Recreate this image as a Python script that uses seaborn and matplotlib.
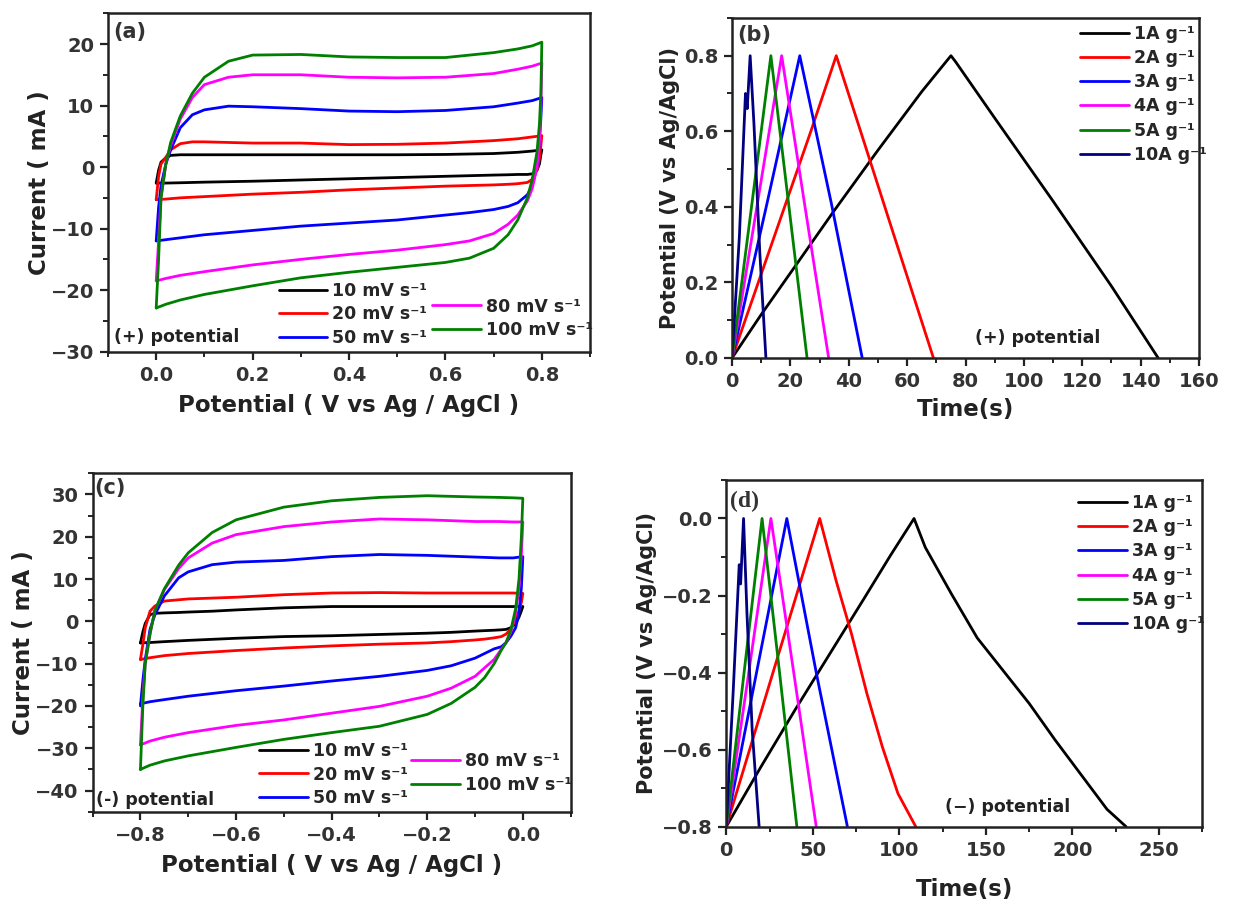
import matplotlib
matplotlib.use("Agg")
import matplotlib.pyplot as plt
import seaborn as sns
import pandas as pd
from matplotlib.ticker import MultipleLocator

# ---------------- DATA ----------------
# Panel (a): CV, positive window. Forward (upper) and reverse (lower) branches.
a_up_V = [0.0, 0.005, 0.01, 0.02, 0.03, 0.05, 0.075, 0.1, 0.15, 0.2, 0.3, 0.4, 0.5, 0.6, 0.7, 0.75, 0.78, 0.8]
a_dn_V = [0.8, 0.798, 0.795, 0.79, 0.78, 0.77, 0.75, 0.73, 0.7, 0.65, 0.6, 0.5, 0.4, 0.3, 0.2, 0.1, 0.05, 0.02, 0.0]
a_10_up = [-2.6, -0.5, 0.8, 1.5, 1.9, 2.0, 2.0, 2.0, 2.0, 2.0, 2.0, 2.0, 2.0, 2.05, 2.2, 2.4, 2.6, 2.8]
a_10_dn = [2.8, 2.0, 0.5, -0.5, -1.1, -1.2, -1.2, -1.25, -1.3, -1.4, -1.5, -1.7, -1.9, -2.1, -2.3, -2.45, -2.55, -2.6, -2.6]
a_20_up = [-5.3, -1.5, 0.5, 1.6, 2.8, 3.8, 4.1, 4.1, 4.0, 3.9, 3.9, 3.65, 3.7, 3.9, 4.3, 4.6, 4.9, 5.1]
a_20_dn = [5.1, 3.5, 1.5, -0.5, -2.0, -2.5, -2.7, -2.8, -2.9, -3.0, -3.1, -3.4, -3.7, -4.1, -4.4, -4.8, -5.0, -5.2, -5.3]
a_50_up = [-12.0, -6.5, -3.0, 0.5, 2.8, 6.4, 8.5, 9.3, 9.9, 9.8, 9.5, 9.1, 9.0, 9.2, 9.8, 10.4, 10.8, 11.3]
a_50_dn = [11.3, 8.0, 4.0, 0.0, -3.0, -4.5, -5.8, -6.4, -6.9, -7.4, -7.8, -8.6, -9.1, -9.6, -10.3, -11.0, -11.5, -11.8, -12.0]
a_80_up = [-18.5, -12.0, -5.0, 0.5, 3.5, 7.8, 11.3, 13.4, 14.6, 15.0, 15.0, 14.6, 14.5, 14.6, 15.2, 15.9, 16.4, 16.9]
a_80_dn = [16.9, 10.0, 4.0, 0.0, -3.5, -5.5, -7.8, -9.3, -10.8, -12.0, -12.6, -13.5, -14.2, -15.0, -15.9, -17.0, -17.6, -18.1, -18.5]
a_100_up = [-22.9, -15.0, -5.0, 0.5, 4.0, 8.3, 12.0, 14.6, 17.2, 18.2, 18.3, 17.9, 17.8, 17.8, 18.6, 19.2, 19.7, 20.3]
a_100_dn = [20.3, 12.0, 7.0, 2.5, -2.0, -5.0, -8.6, -11.0, -13.2, -14.8, -15.5, -16.3, -17.1, -18.0, -19.3, -20.7, -21.6, -22.3, -22.9]

# Panel (c): CV, negative window.
c_up_V = [-0.8, -0.795, -0.79, -0.78, -0.77, -0.75, -0.72, -0.7, -0.65, -0.6, -0.5, -0.4, -0.3, -0.2, -0.1, -0.05, -0.02, 0.0]
c_dn_V = [0.0, -0.003, -0.008, -0.015, -0.025, -0.035, -0.045, -0.06, -0.08, -0.1, -0.15, -0.2, -0.3, -0.4, -0.5, -0.6, -0.7, -0.75, -0.78, -0.8]
c_10_up = [-5.1, -2.5, -0.5, 1.6, 1.9, 2.0, 2.1, 2.2, 2.4, 2.7, 3.2, 3.5, 3.5, 3.5, 3.5, 3.5, 3.5, 3.5]
c_10_dn = [3.5, 2.5, 1.0, -0.5, -1.5, -1.9, -2.0, -2.1, -2.2, -2.3, -2.6, -2.8, -3.1, -3.4, -3.6, -4.0, -4.5, -4.8, -5.0, -5.1]
c_20_up = [-9.0, -5.5, -1.5, 2.4, 3.6, 4.8, 5.1, 5.3, 5.5, 5.7, 6.3, 6.7, 6.8, 6.7, 6.7, 6.7, 6.7, 6.6]
c_20_dn = [6.6, 4.5, 2.5, 0.5, -1.8, -3.0, -3.6, -3.9, -4.2, -4.4, -4.8, -5.1, -5.4, -5.8, -6.3, -6.9, -7.6, -8.1, -8.6, -9.0]
c_50_up = [-20.0, -14.0, -9.0, -1.9, 1.5, 6.0, 10.3, 11.7, 13.4, 14.0, 14.4, 15.3, 15.8, 15.6, 15.2, 15.0, 15.0, 15.3]
c_50_dn = [15.3, 8.0, 2.0, -1.5, -3.5, -5.0, -6.0, -6.5, -7.6, -8.7, -10.5, -11.6, -13.0, -14.1, -15.3, -16.4, -17.7, -18.5, -19.0, -19.5]
c_80_up = [-29.2, -18.0, -10.0, -3.0, 2.5, 7.5, 12.5, 15.0, 18.5, 20.5, 22.4, 23.5, 24.2, 24.0, 23.6, 23.6, 23.5, 23.5]
c_80_dn = [23.5, 16.0, 8.0, 2.0, -2.5, -5.0, -6.6, -9.0, -11.0, -13.0, -15.8, -17.7, -20.1, -21.7, -23.3, -24.6, -26.3, -27.4, -28.3, -29.2]
c_100_up = [-35.0, -20.0, -10.0, -3.0, 2.5, 7.7, 13.3, 16.2, 21.0, 24.0, 27.0, 28.5, 29.3, 29.7, 29.4, 29.3, 29.2, 29.1]
c_100_dn = [29.1, 20.0, 10.0, 3.0, -2.0, -5.0, -6.8, -10.0, -13.3, -15.6, -19.4, -22.0, -24.8, -26.3, -27.9, -29.8, -31.8, -33.0, -34.0, -35.0]

cv_labels = ["10 mV s\u207b\u00b9", "20 mV s\u207b\u00b9", "50 mV s\u207b\u00b9",
             "80 mV s\u207b\u00b9", "100 mV s\u207b\u00b9"]
cv_colors = ["#000000", "#ff0000", "#0000ff", "#ff00ff", "#008000"]

# Panel (b): GCD, positive window
b_1_t = [0, 10, 20, 35, 50, 65, 75, 76.5, 90, 110, 130, 146]
b_1_v = [0.0, 0.115, 0.225, 0.39, 0.55, 0.705, 0.80, 0.785, 0.635, 0.415, 0.19, 0.0]
b_2_t = [0, 9, 18, 27, 35.7, 45, 55, 69]
b_2_v = [0.0, 0.2, 0.4, 0.6, 0.80, 0.577, 0.336, 0.0]
b_3_t = [0, 12, 23.2, 34, 44.6]
b_3_v = [0.0, 0.41, 0.80, 0.41, 0.0]
b_4_t = [0, 8.5, 17.0, 25, 33.1]
b_4_v = [0.0, 0.40, 0.80, 0.40, 0.0]
b_5_t = [0, 6.5, 13.3, 19.5, 25.7]
b_5_v = [0.0, 0.39, 0.80, 0.40, 0.0]
b_10_t = [0, 2.5, 4.6, 5.2, 6.2, 7.5, 9.5, 11.6]
b_10_v = [0.0, 0.32, 0.70, 0.66, 0.80, 0.62, 0.28, 0.0]

# Panel (d): GCD, negative window
d_1_t = [0, 20, 40, 60, 80, 95, 108.5, 115, 130, 145, 160, 175, 190, 205, 220, 231]
d_1_v = [-0.8, -0.645, -0.495, -0.35, -0.205, -0.095, 0.0, -0.075, -0.195, -0.31, -0.395, -0.48, -0.575, -0.665, -0.755, -0.8]
d_2_t = [0, 27, 54, 63.5, 72.4, 81.3, 90.2, 99.2, 109.5]
d_2_v = [-0.8, -0.4, 0.0, -0.162, -0.3, -0.455, -0.593, -0.714, -0.8]
d_3_t = [0, 17.5, 35, 52, 70]
d_3_v = [-0.8, -0.4, 0.0, -0.4, -0.8]
d_4_t = [0, 13, 25.8, 39, 52]
d_4_v = [-0.8, -0.4, 0.0, -0.4, -0.8]
d_5_t = [0, 10.3, 20.7, 30.8, 40.8]
d_5_v = [-0.8, -0.4, 0.0, -0.4, -0.8]
d_10_t = [0, 4, 7.5, 8.3, 10, 12, 15, 19]
d_10_v = [-0.8, -0.45, -0.12, -0.17, 0.0, -0.25, -0.55, -0.8]

gcd_labels = ["1A g\u207b\u00b9", "2A g\u207b\u00b9", "3A g\u207b\u00b9",
              "4A g\u207b\u00b9", "5A g\u207b\u00b9", "10A g\u207b\u00b9"]
gcd_colors = ["#000000", "#ff0000", "#0000ff", "#ff00ff", "#008000", "#000080"]

# ---------------- STYLE ----------------
sns.set_theme(style="ticks")
plt.rcParams["font.family"] = ["DejaVu Sans"]
plt.rcParams["font.weight"] = "bold"
plt.rcParams["axes.labelweight"] = "bold"

fig = plt.figure(figsize=(12.37, 9.01), dpi=100)
axA = fig.add_axes([0.0873, 0.6097, 0.3897, 0.3756])
axB = fig.add_axes([0.5918, 0.6027, 0.3775, 0.3774])
axC = fig.add_axes([0.0749, 0.0991, 0.3864, 0.3756])
axD = fig.add_axes([0.5871, 0.0825, 0.3848, 0.3848])

LW = 1.4


def cv_frame(upV, dnV, ups, dns):
    rows = []
    for lab, u, d in zip(cv_labels, ups, dns):
        for v, i in zip(list(upV) + list(dnV), list(u) + list(d)):
            rows.append((lab, v, i))
    return pd.DataFrame(rows, columns=["rate", "V", "I"])


def gcd_frame(ts, vs):
    rows = []
    for lab, t, v in zip(gcd_labels, ts, vs):
        for a, b in zip(t, v):
            rows.append((lab, a, b))
    return pd.DataFrame(rows, columns=["cur", "t", "E"])


dfA = cv_frame(a_up_V, a_dn_V,
               [a_10_up, a_20_up, a_50_up, a_80_up, a_100_up],
               [a_10_dn, a_20_dn, a_50_dn, a_80_dn, a_100_dn])
dfC = cv_frame(c_up_V, c_dn_V,
               [c_10_up, c_20_up, c_50_up, c_80_up, c_100_up],
               [c_10_dn, c_20_dn, c_50_dn, c_80_dn, c_100_dn])
dfB = gcd_frame([b_1_t, b_2_t, b_3_t, b_4_t, b_5_t, b_10_t],
                [b_1_v, b_2_v, b_3_v, b_4_v, b_5_v, b_10_v])
dfD = gcd_frame([d_1_t, d_2_t, d_3_t, d_4_t, d_5_t, d_10_t],
                [d_1_v, d_2_v, d_3_v, d_4_v, d_5_v, d_10_v])

for ax, df in ((axA, dfA), (axC, dfC)):
    for lab, col in zip(cv_labels, cv_colors):
        sub = df[df["rate"] == lab]
        sns.lineplot(data=sub, x="V", y="I", sort=False, estimator=None,
                     color=col, linewidth=LW, label=lab, ax=ax)
for ax, df in ((axB, dfB), (axD, dfD)):
    for lab, col in zip(gcd_labels, gcd_colors):
        sub = df[df["cur"] == lab]
        sns.lineplot(data=sub, x="t", y="E", sort=False, estimator=None,
                     color=col, linewidth=LW, label=lab, ax=ax)


def style(ax, xlim, ylim, xmaj, xmin, ymaj, ymin):
    ax.set_xlim(*xlim)
    ax.set_ylim(*ylim)
    ax.xaxis.set_major_locator(MultipleLocator(xmaj))
    ax.xaxis.set_minor_locator(MultipleLocator(xmin))
    ax.yaxis.set_major_locator(MultipleLocator(ymaj))
    ax.yaxis.set_minor_locator(MultipleLocator(ymin))
    ax.tick_params(which="major", direction="out", length=6, width=1.6,
                   labelsize=14, colors="#222222", labelcolor="#333333", pad=4)
    ax.tick_params(which="minor", direction="out", length=3.5, width=1.4,
                   colors="#222222")
    for s in ax.spines.values():
        s.set_linewidth(1.8)
        s.set_color("#222222")
        s.set_visible(True)


style(axA, (-0.1, 0.9), (-30, 25), 0.2, 0.1, 10, 5)
style(axB, (0, 160), (0, 0.9), 20, 10, 0.2, 0.1)
style(axC, (-0.9, 0.1), (-45, 35), 0.2, 0.1, 10, 5)
style(axD, (0, 275), (-0.8, 0.1), 50, 25, 0.2, 0.1)

lab_kw = dict(fontsize=16.5, fontweight="bold", color="#222222")
axA.set_xlabel("Potential ( V vs Ag / AgCl )", labelpad=7, **lab_kw)
axA.set_ylabel("Current ( mA )", labelpad=0, **lab_kw)
axC.set_xlabel("Potential ( V vs Ag / AgCl )", labelpad=7, **lab_kw)
axC.set_ylabel("Current ( mA )", labelpad=0, **lab_kw)
axB.set_xlabel("Time(s)", labelpad=5, **lab_kw)
axB.set_ylabel("Potential (V vs Ag/AgCl)", labelpad=3, fontsize=15,
               fontweight="bold", color="#222222")
axD.set_xlabel("Time(s)", labelpad=13, **lab_kw)
axD.set_ylabel("Potential (V vs Ag/AgCl)", labelpad=3, fontsize=15,
               fontweight="bold", color="#222222")

leg_kw = dict(frameon=False, borderpad=0, borderaxespad=0, handlelength=2.8,
              handletextpad=0.3, labelspacing=0.3,
              prop=dict(weight="bold", size=12.5))


def split_legend(ax, anchor1, anchor2):
    h, l = ax.get_legend_handles_labels()
    for hh in h:
        hh.set_linewidth(2.0)
    lg1 = ax.legend(h[:3], l[:3], loc="upper left", bbox_to_anchor=anchor1, **leg_kw)
    ax.add_artist(lg1)
    ax.legend(h[3:], l[3:], loc="upper left", bbox_to_anchor=anchor2, **leg_kw)


split_legend(axA, (0.354, 0.205), (0.673, 0.16))
split_legend(axC, (0.348, 0.205), (0.666, 0.175))

for ax, anc in ((axB, (0.745, 0.98)), (axD, (0.74, 0.96))):
    h, l = ax.get_legend_handles_labels()
    for hh in h:
        hh.set_linewidth(2.0)
    ax.legend(h, l, loc="upper left", bbox_to_anchor=anc, **dict(leg_kw, labelspacing=0.36))

txt_kw = dict(fontsize=12.5, fontweight="bold", color="#222222")
axA.text(0.012, 0.042, "(+) potential", transform=axA.transAxes, va="center", ha="left", **txt_kw)
axC.text(0.008, 0.035, "(-) potential", transform=axC.transAxes, va="center", ha="left", **txt_kw)
axB.text(0.52, 0.06, "(+) potential", transform=axB.transAxes, va="center", ha="left", **txt_kw)
axD.text(0.46, 0.057, "(\u2212) potential", transform=axD.transAxes, va="center", ha="left", **txt_kw)

pl_kw = dict(fontsize=15, fontweight="bold", color="#333333")
axA.text(0.01, 0.945, "(a)", transform=axA.transAxes, va="center", ha="left", **pl_kw)
axB.text(0.012, 0.95, "(b)", transform=axB.transAxes, va="center", ha="left", **pl_kw)
axC.text(0.004, 0.957, "(c)", transform=axC.transAxes, va="center", ha="left", **pl_kw)
axD.text(0.008, 0.937, "(d)", transform=axD.transAxes, va="center", ha="left",
         fontsize=17, family="Liberation Serif", color="#333333")

fig.savefig("out.png", dpi=100)
